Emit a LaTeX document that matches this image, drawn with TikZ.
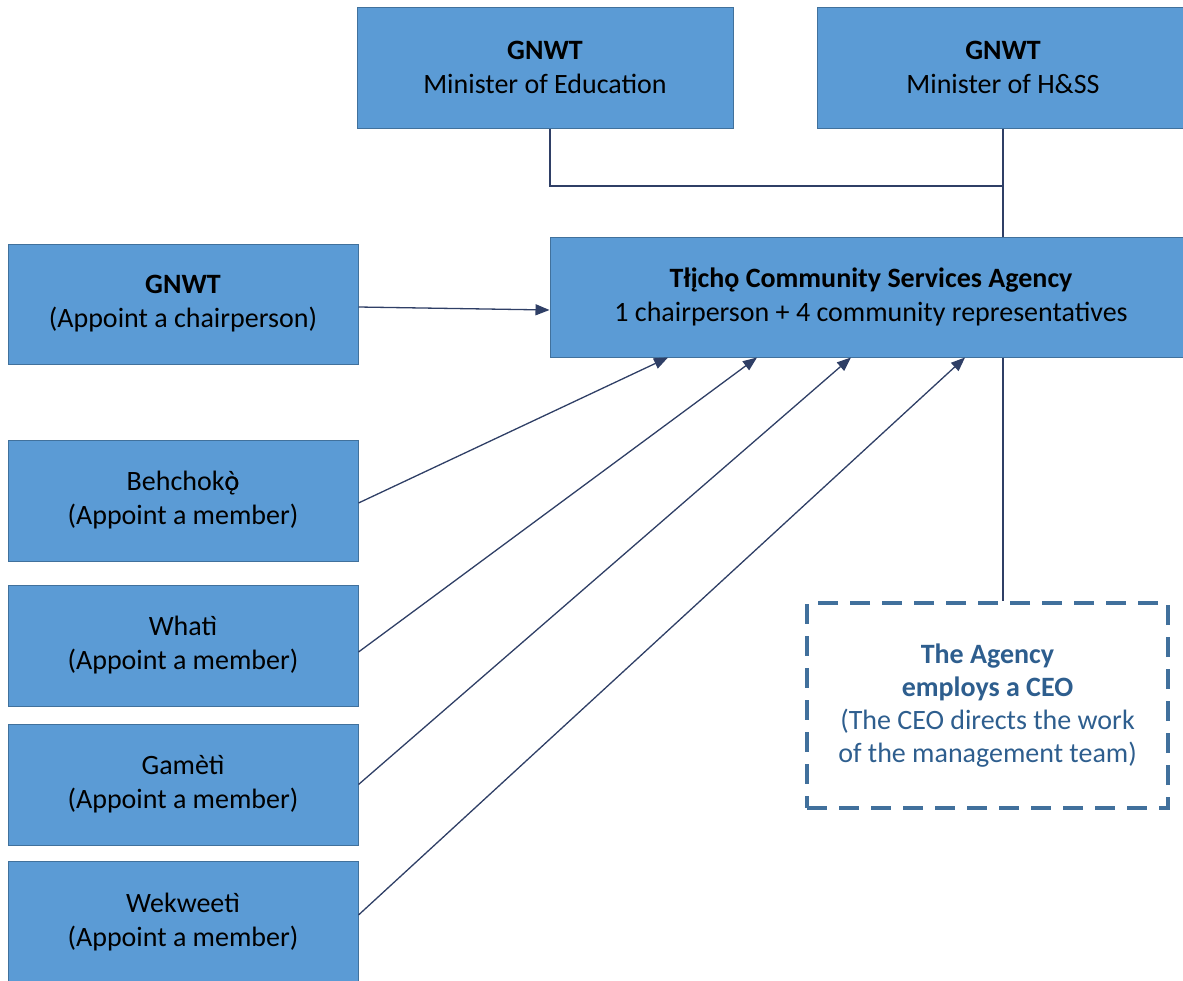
\documentclass[tikz,border=0pt]{standalone}
\usepackage{fontspec}
\setmainfont{Carlito}
\usetikzlibrary{arrows.meta,calc}
\definecolor{boxblue}{HTML}{5B9BD5}
\definecolor{boxedge}{HTML}{41719C}
\definecolor{linkcol}{HTML}{2F3F66}
\definecolor{ceotext}{HTML}{2E5E8E}
\definecolor{ceoedge}{HTML}{41709C}
\newcommand{\ogrv}{{\ooalign{^^^^01eb\cr{}^^^^00f2\cr}}}
\begin{document}
\begin{tikzpicture}[x=1pt,y=-1pt,
  bluebox/.style={draw=boxedge,line width=1pt,fill=boxblue,align=center,inner sep=0pt,
    font=\fontsize{28}{34}\selectfont,text=black},
  ceobox/.style={draw=ceoedge,line width=4pt,dash pattern=on 20pt off 12pt,align=center,inner sep=0pt,
    font=\fontsize{28}{33}\selectfont,text=ceotext},
  link/.style={draw=linkcol,line width=1.3pt},
  arr/.style={link,-{Triangle[length=14pt,width=11pt]}}]
\useasboundingbox (0,0) rectangle (1183,980);
\node[bluebox,minimum width=376pt,minimum height=121pt] (edu) at (545,67.5) {\textbf{GNWT}\\Minister of Education};
\node[bluebox,minimum width=372pt,minimum height=121pt] (hss) at (1003,67.5) {\textbf{GNWT}\\Minister of H\&SS};
\node[bluebox,minimum width=642pt,minimum height=120pt] (agency) at (871,297) {\textbf{T^^^^0142^^^^012fch^^^^01eb{} Community Services Agency}\\1 chairperson + 4 community representatives};
\node[bluebox,minimum width=350pt,minimum height=120pt] (chair) at (183,304) {\textbf{GNWT}\\(Appoint a chairperson)};
\node[bluebox,minimum width=350pt,minimum height=121pt] (beh) at (183,500.5) {Behchok\ogrv\\(Appoint a member)};
\node[bluebox,minimum width=350pt,minimum height=121pt] (wha) at (183,645.5) {Whatì\\(Appoint a member)};
\node[bluebox,minimum width=350pt,minimum height=121pt] (gam) at (183,784.5) {Gamètì\\(Appoint a member)};
\node[bluebox,minimum width=350pt,minimum height=121pt] (wek) at (183,922) {Wekweetì\\(Appoint a member)};
\node[ceobox,minimum width=361pt,minimum height=205pt] (ceo) at (987.5,705.5) {\textbf{The Agency}\\\textbf{employs a CEO}\\(The CEO directs the work\\of the management team)};
\coordinate (join) at (1003,186);
\draw[link] (edu.south -| 550,0) |- (join);
\draw[link] (hss.south -| join) -- (agency.north -| join);
\draw[link] (agency.south -| join) -- (ceo.north -| join);
\draw[arr] ($(chair.east)+(0,3)$) -- (agency.west |- 0,310);
\draw[arr] ($(beh.east)+(0,2.5)$) -- (668,0 |- agency.south);
\draw[arr] ($(wha.east)+(0,6.5)$) -- (757,0 |- agency.south);
\draw[arr] (gam.east) -- (851,0 |- agency.south);
\draw[arr] ($(wek.east)+(0,-7)$) -- (965,0 |- agency.south);
\end{tikzpicture}
\end{document}
